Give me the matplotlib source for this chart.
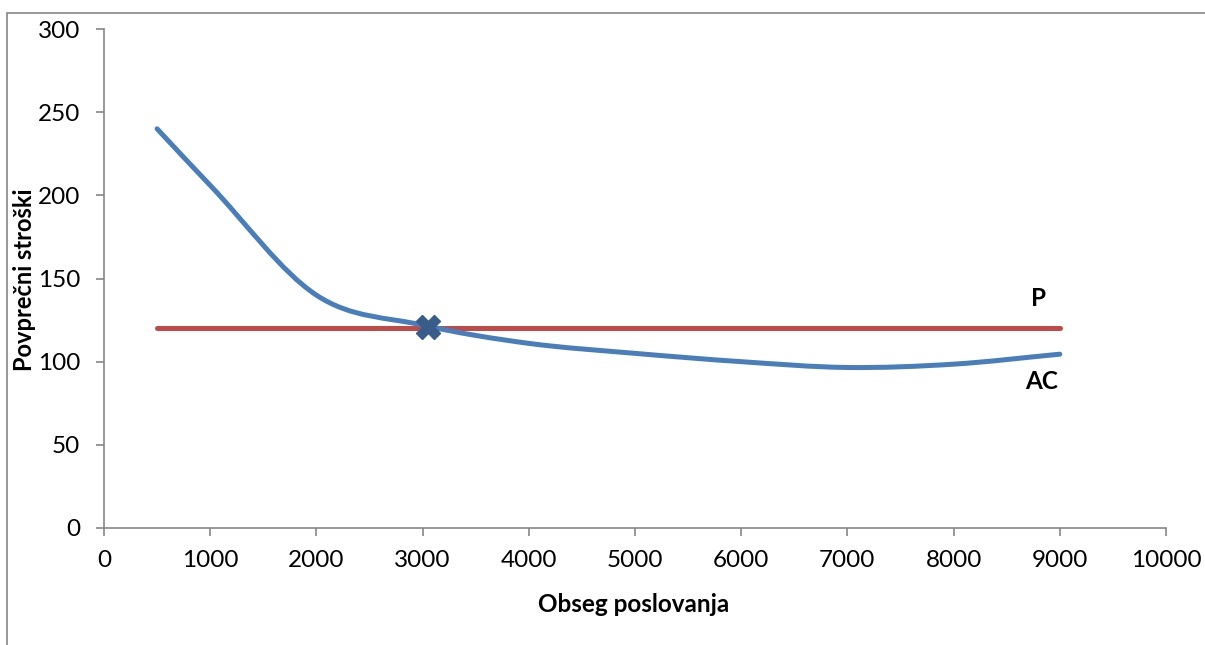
import matplotlib
matplotlib.use('Agg')
import matplotlib.pyplot as plt
from matplotlib.path import Path
from matplotlib.patches import PathPatch, Rectangle
import numpy as np

plt.rcParams['font.family'] = ['Lato', 'DejaVu Sans']

# podatki
obseg = [500, 1000, 2000, 3000, 4000, 5000, 6000, 7000, 8000, 9000]
ac = [240, 206, 140, 122, 111, 105, 100, 96.5, 98.5, 104.5]
p_x = [500, 9000]
p_y = [120, 120]
tocka_x = [3050]
tocka_y = [121]

fig = plt.figure(figsize=(12.05, 6.45), dpi=100)
ax = fig.add_axes([104 / 1205, 1 - 528 / 645, 1062 / 1205, 499 / 645])

# zunanji okvir grafikona
fig.patches.append(Rectangle((7 / 1205, -0.1), 1.2, (645 - 13) / 645 + 0.1,
                             transform=fig.transFigure, fill=False,
                             edgecolor='#868686', linewidth=1.2))


def gladka_pot(xs, ys):
    # Hermitova krivulja -> Bezier (kot "smoothed line" v Excelu)
    x = np.asarray(xs, float)
    y = np.asarray(ys, float)
    n = len(x)
    m = np.zeros(n)
    m[0] = (y[1] - y[0]) / (x[1] - x[0])
    m[-1] = (y[-1] - y[-2]) / (x[-1] - x[-2])
    for i in range(1, n - 1):
        m[i] = (y[i + 1] - y[i - 1]) / (x[i + 1] - x[i - 1])
    verts = [(x[0], y[0])]
    codes = [Path.MOVETO]
    for i in range(n - 1):
        h = x[i + 1] - x[i]
        verts += [(x[i] + h / 3, y[i] + m[i] * h / 3),
                  (x[i + 1] - h / 3, y[i + 1] - m[i + 1] * h / 3),
                  (x[i + 1], y[i + 1])]
        codes += [Path.CURVE4] * 3
    return Path(verts, codes)


ax.add_patch(PathPatch(gladka_pot(obseg, ac), fill=False, edgecolor='#4A7EBB',
                       linewidth=3.6, capstyle='round', zorder=3))
ax.plot(p_x, p_y, color='#BE4B48', linewidth=3.6, solid_capstyle='round', zorder=2)
ax.plot(tocka_x, tocka_y, marker='X', markersize=17, color='#385D8A',
        linestyle='none', zorder=4)

ax.text(8800, 138, 'P', fontsize=17.5, fontweight='bold', ha='center', va='center')
ax.text(8830, 88, 'AC', fontsize=17.5, fontweight='bold', ha='center', va='center')

ax.set_xlim(0, 10000)
ax.set_ylim(0, 300)
ax.set_xticks(np.arange(0, 10001, 1000))
ax.set_yticks(np.arange(0, 301, 50))

for s in ['top', 'right']:
    ax.spines[s].set_visible(False)
for s in ['left', 'bottom']:
    ax.spines[s].set_color('#868686')
    ax.spines[s].set_linewidth(1.2)
ax.tick_params(axis='both', direction='out', length=6, width=1.2, color='#868686',
               labelsize=17.5, labelcolor='black')
ax.tick_params(axis='y', pad=11)
ax.tick_params(axis='x', pad=10)

fig.text(634 / 1205, 1 - 604 / 645, 'Obseg poslovanja', fontsize=17.5, fontweight='bold',
         ha='center', va='center')
fig.text(25 / 1205, 1 - 280 / 645, 'Povprečni stroški', fontsize=17, fontweight='bold',
         ha='center', va='center', rotation=90)

fig.savefig('out.png', dpi=100)
